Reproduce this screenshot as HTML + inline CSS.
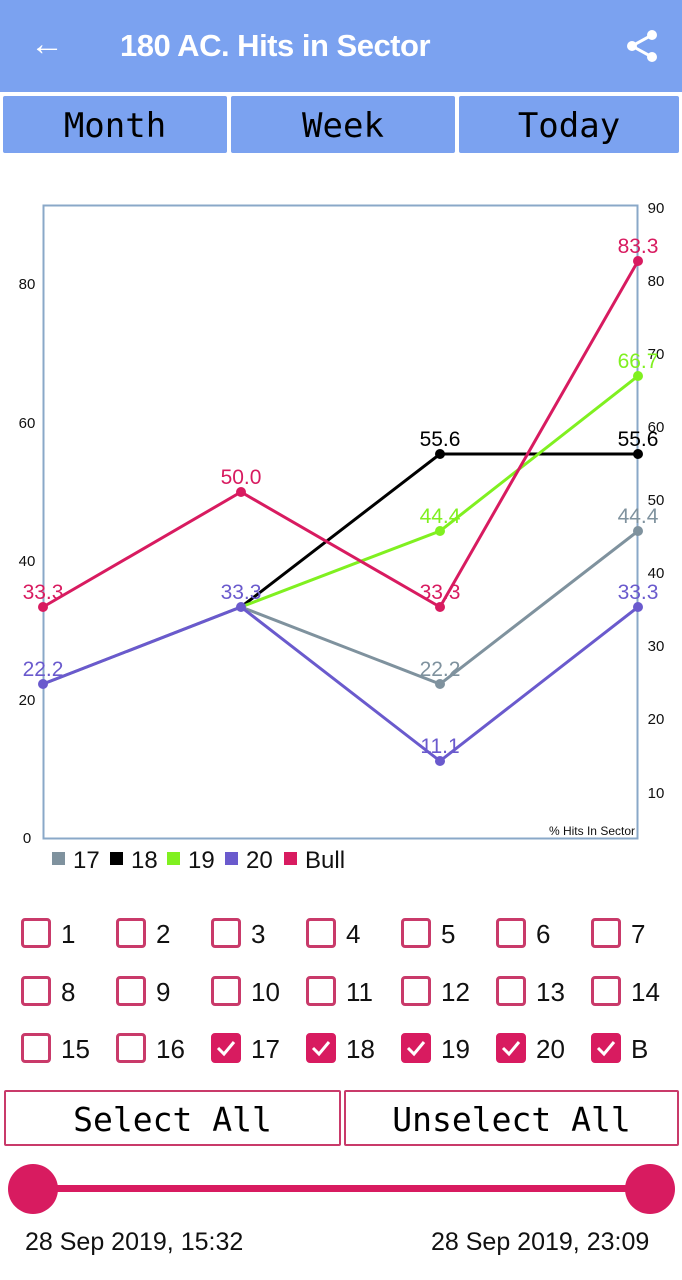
<!DOCTYPE html><html><head><style>
body{margin:0;width:682px;height:1280px;background:#fff;font-family:"Liberation Sans",sans-serif;position:relative;overflow:hidden}
.a{position:absolute}
.hdr{left:0;top:0;width:682px;height:92px;background:#7ba2f0;color:#fff}
.tab{top:96px;height:57px;background:#7ba2f0;border-radius:2px;font-family:"DejaVu Sans Mono",monospace;font-size:34px;text-align:center;line-height:60px;color:#000}
.cb{width:24px;height:24px;border:3px solid #c93a6a;border-radius:4px}
.cb.on{background:#d81b60;border-color:#d81b60}
.lb{font-size:26px;color:#111}
.btn{top:1090px;height:56px;border:2px solid #c93a6a;border-radius:2px;font-family:"DejaVu Sans Mono",monospace;font-size:33px;text-align:center;line-height:56px;box-sizing:border-box}
</style></head><body>
<div class="a hdr"><div class="a" style="left:30px;top:24px;font-size:34px;line-height:40px">&#8592;</div>
<div class="a" style="left:120px;top:28px;font-size:31px;font-weight:bold;letter-spacing:-0.5px">180 AC. Hits in Sector</div>
<svg class="a" style="left:624px;top:28px" width="36" height="36"><line x1="28" y1="7" x2="8" y2="18" stroke="#fff" stroke-width="3"/><line x1="28" y1="29" x2="8" y2="18" stroke="#fff" stroke-width="3"/><circle cx="28" cy="7" r="5" fill="#fff"/><circle cx="28" cy="29" r="5" fill="#fff"/><circle cx="8" cy="18" r="5" fill="#fff"/></svg></div>
<div class="a tab" style="left:3px;width:224px">Month</div>
<div class="a tab" style="left:231px;width:224px">Week</div>
<div class="a tab" style="left:459px;width:220px">Today</div>
<svg class="a" style="left:0;top:0" width="682" height="880" font-family="Liberation Sans">
<rect x="43.5" y="205.5" width="594" height="633" fill="none" stroke="#8aa8c8" stroke-width="2"/>
<g font-size="15" fill="#111" text-anchor="middle">
<text x="27" y="843">0</text><text x="27" y="705">20</text><text x="27" y="566">40</text><text x="27" y="428">60</text><text x="27" y="289">80</text>
<text x="656" y="213">90</text><text x="656" y="286">80</text><text x="656" y="359">70</text><text x="656" y="432">60</text><text x="656" y="505">50</text><text x="656" y="578">40</text><text x="656" y="651">30</text><text x="656" y="724">20</text><text x="656" y="798">10</text></g>
<text x="635" y="835" font-size="12" text-anchor="end" fill="#111">% Hits In Sector</text>
<g fill="none" stroke-width="3">
<polyline points="43,684 241,607 440,684 638,531" stroke="#7f929e"/>
<polyline points="241,607 440,454 638,454" stroke="#000"/>
<polyline points="241,607 440,531 638,376" stroke="#80f020"/>
<polyline points="43,684 241,607 440,761 638,607" stroke="#6a5acd"/>
<polyline points="43,607 241,492 440,607 638,261" stroke="#d81b60"/></g>
<g fill="#7f929e"><circle cx="440" cy="684" r="5"/><circle cx="638" cy="531" r="5"/></g>
<g fill="#000"><circle cx="440" cy="454" r="5"/><circle cx="638" cy="454" r="5"/></g>
<g fill="#80f020"><circle cx="440" cy="531" r="5"/><circle cx="638" cy="376" r="5"/></g>
<g fill="#6a5acd"><circle cx="43" cy="684" r="5"/><circle cx="241" cy="607" r="5"/><circle cx="440" cy="761" r="5"/><circle cx="638" cy="607" r="5"/></g>
<g fill="#d81b60"><circle cx="43" cy="607" r="5"/><circle cx="241" cy="492" r="5"/><circle cx="440" cy="607" r="5"/><circle cx="638" cy="261" r="5"/></g>
<g font-size="21" text-anchor="middle">
<text x="43" y="599" fill="#d81b60">33.3</text><text x="241" y="484" fill="#d81b60">50.0</text><text x="440" y="599" fill="#d81b60">33.3</text><text x="638" y="253" fill="#d81b60">83.3</text>
<text x="241" y="599" fill="#6a5acd">33.3</text><text x="43" y="676" fill="#6a5acd">22.2</text><text x="440" y="753" fill="#6a5acd">11.1</text><text x="638" y="599" fill="#6a5acd">33.3</text>
<text x="440" y="676" fill="#7f929e">22.2</text><text x="638" y="523" fill="#7f929e">44.4</text>
<text x="440" y="446" fill="#000">55.6</text><text x="638" y="446" fill="#000">55.6</text>
<text x="440" y="523" fill="#80f020">44.4</text><text x="638" y="368" fill="#80f020">66.7</text></g>
<g font-size="24" fill="#111">
<rect x="52" y="852" width="13" height="13" fill="#7f929e"/><text x="73" y="868">17</text>
<rect x="110" y="852" width="13" height="13" fill="#000"/><text x="131" y="868">18</text>
<rect x="167" y="852" width="13" height="13" fill="#80f020"/><text x="188" y="868">19</text>
<rect x="225" y="852" width="13" height="13" fill="#6a5acd"/><text x="246" y="868">20</text>
<rect x="284" y="852" width="13" height="13" fill="#d81b60"/><text x="305" y="868">Bull</text></g>
</svg>
<div id="cbs"></div>
<div class="a btn" style="left:4px;width:337px">Select All</div>
<div class="a btn" style="left:344px;width:335px">Unselect All</div>
<div class="a" style="left:32px;top:1185px;width:618px;height:7px;background:#d81b60"></div>
<div class="a" style="left:8px;top:1164px;width:50px;height:50px;border-radius:50%;background:#d81b60"></div>
<div class="a" style="left:625px;top:1164px;width:50px;height:50px;border-radius:50%;background:#d81b60"></div>
<div class="a" style="left:25px;top:1228px;font-size:25px;color:#111">28 Sep 2019, 15:32</div>
<div class="a" style="left:431px;top:1228px;font-size:25px;color:#111">28 Sep 2019, 23:09</div>
<script>
var L=['1','2','3','4','5','6','7','8','9','10','11','12','13','14','15','16','17','18','19','20','B'],h='';
for(var i=0;i<21;i++){var c=i%7,r=Math.floor(i/7),x=21+c*95,y=918+r*57.5,on=i>=16;
h+='<div class="a cb'+(on?' on':'')+'" style="left:'+x+'px;top:'+y+'px">'+(on?'<svg width="24" height="24"><polyline points="4,12 10,18 20,6" fill="none" stroke="#fff" stroke-width="3"/></svg>':'')+'</div><div class="a lb" style="left:'+(x+40)+'px;top:'+(y+1)+'px">'+L[i]+'</div>';}
document.getElementById('cbs').innerHTML=h;
</script>
</body></html>
